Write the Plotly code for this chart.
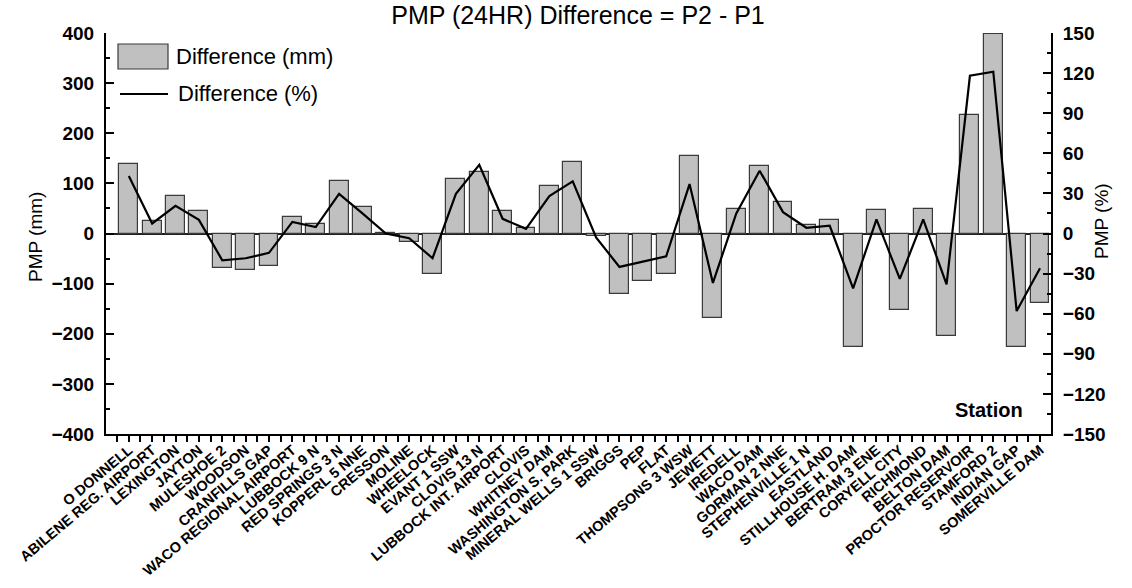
import plotly.graph_objects as go

# Stations along the x-axis
stations = [
    "O DONNELL", "ABILENE REG. AIRPORT", "LEXINGTON", "JAYTON", "MULESHOE 2",
    "WOODSON", "CRANFILLS GAP", "WACO REGIONAL AIRPORT", "LUBBOCK 9 N",
    "RED SPRINGS 3 N", "KOPPERL 5 NNE", "CRESSON", "MOLINE", "WHEELOCK",
    "EVANT 1 SSW", "CLOVIS 13 N", "LUBBOCK INT. AIRPORT", "CLOVIS",
    "WHITNEY DAM", "WASHINGTON S. PARK", "MINERAL WELLS 1 SSW", "BRIGGS",
    "PEP", "FLAT", "THOMPSONS 3 WSW", "JEWETT", "IREDELL", "WACO DAM",
    "GORMAN 2 NNE", "STEPHENVILLE 1 N", "EASTLAND", "STILLHOUSE H. DAM",
    "BERTRAM 3 ENE", "CORYELL CITY", "RICHMOND", "BELTON DAM",
    "PROCTOR RESERVOIR", "STAMFORD 2", "INDIAN GAP", "SOMERVILLE DAM",
]

# PMP difference P2 - P1 in millimetres (bars, left axis)
diff_mm = [
    138, 25, 75, 45, -68, -72, -64, 32, 19, 105,
    52, 1, -16, -80, 109, 123, 44, 11, 95, 142,
    -4, -120, -95, -81, 154, -168, 49, 134, 63, 17,
    26, -227, 46, -152, 48, -205, 236, 398, -227, -139,
]

# PMP difference P2 - P1 in percent (line, right axis)
diff_pct = [
    43, 7.5, 20.7, 10.2, -20, -18.5, -14.5, 8.7, 4.8, 29.6,
    15, 0, -3.5, -18.5, 29.7, 51.4, 11, 3.5, 28, 39,
    -3, -25, -21, -17, 37, -37, 15, 47, 16, 4.3,
    5.8, -41, 10.5, -34, 10.5, -38, 118, 121, -58, -26,
]

left_ticks = [-400, -300, -200, -100, 0, 100, 200, 300, 400]
right_ticks = [-150, -120, -90, -60, -30, 0, 30, 60, 90, 120, 150]

FONT = "Liberation Sans, Arial, sans-serif"
x = list(range(len(stations)))

fig = go.Figure()
fig.add_trace(go.Bar(
    x=x, y=diff_mm, name="Difference (mm)", width=0.81,
    marker=dict(color="#c0c0c0", line=dict(color="#3a3a3a", width=1.2)),
    yaxis="y", showlegend=False,
))
fig.add_trace(go.Scatter(
    x=x, y=diff_pct, name="Difference (%)", mode="lines",
    line=dict(color="black", width=2.2),
    yaxis="y2", showlegend=False,
))

# plot area in pixels: x 106..1051, y 33..434
L, R, T, B = 106, 1051, 33, 434
W, H = R - L, B - T


def px(xp):
    return (xp - L) / W


def py(yp):
    return (B - yp) / H


tick_font = dict(family=FONT, size=19, color="black", weight="bold")

fig.update_layout(
    width=1132, height=588,
    margin=dict(l=L, r=1132 - R, t=T, b=588 - B, autoexpand=False),
    paper_bgcolor="white", plot_bgcolor="white",
    bargap=0,
    title=dict(
        text="PMP (24HR) Difference = P2 - P1",
        font=dict(family=FONT, size=25, color="black"),
        xref="container", yref="container",
        x=578 / 1132, y=1 - 15 / 588, xanchor="center", yanchor="middle",
    ),
    xaxis=dict(
        range=[-0.976, 39.47],
        tickmode="array", tickvals=x, ticktext=stations,
        tickangle=-40,
        tickfont=dict(family=FONT, size=14.5, color="black", weight="bold"),
        ticklabelstandoff=-6,
        ticks="outside", ticklen=6, tickwidth=1.5, tickcolor="black",
        minor=dict(tickmode="array", tickvals=[i + 0.5 for i in range(-1, 40)],
                   ticks="outside", ticklen=6, tickwidth=1.5, tickcolor="black"),
        showline=True, linecolor="black", linewidth=2,
        showgrid=False, zeroline=False, automargin=False,
    ),
    yaxis=dict(
        range=[-400, 400],
        tickmode="array", tickvals=left_ticks,
        tickfont=tick_font,
        ticks="inside", ticklen=8, tickwidth=1.5, tickcolor="black",
        minor=dict(dtick=50, tick0=0, ticks="inside", ticklen=4,
                   tickwidth=1.5, tickcolor="black"),
        ticklabelstandoff=6,
        showline=True, linecolor="black", linewidth=2,
        showgrid=False,
        zeroline=True, zerolinecolor="#222222", zerolinewidth=1.5,
        automargin=False,
    ),
    yaxis2=dict(
        range=[-150, 150], overlaying="y", side="right",
        tickmode="array", tickvals=right_ticks,
        tickfont=tick_font,
        ticks="inside", ticklen=8, tickwidth=1.5, tickcolor="black",
        minor=dict(dtick=15, tick0=0, ticks="inside", ticklen=4,
                   tickwidth=1.5, tickcolor="black"),
        ticklabelstandoff=6,
        showline=True, linecolor="black", linewidth=2,
        showgrid=False, zeroline=False, automargin=False,
    ),
)

# legend drawn as paper-anchored swatches
fig.add_shape(type="rect", xref="paper", yref="paper",
              x0=px(118), x1=px(168), y0=py(69), y1=py(44),
              fillcolor="#c0c0c0", line=dict(color="#3a3a3a", width=1.2))
fig.add_shape(type="line", xref="paper", yref="paper",
              x0=px(120), x1=px(168), y0=py(94), y1=py(94),
              line=dict(color="black", width=2.2))

annotations = [
    dict(text="Difference (mm)", x=px(174), y=py(56.5), xanchor="left", yanchor="middle",
         font=dict(family=FONT, size=22, color="black")),
    dict(text="Difference (%)", x=px(176), y=py(93.5), xanchor="left", yanchor="middle",
         font=dict(family=FONT, size=22, color="black")),
    dict(text="Station", x=px(989), y=py(410), xanchor="center", yanchor="middle",
         font=dict(family=FONT, size=20, color="black", weight="bold")),
    dict(text="PMP (mm)", x=px(35), y=py(237), textangle=-90,
         xanchor="center", yanchor="middle",
         font=dict(family=FONT, size=19, color="black")),
    dict(text="PMP (%)", x=px(1101), y=py(221), textangle=-90,
         xanchor="center", yanchor="middle",
         font=dict(family=FONT, size=19, color="black")),
]
for a in annotations:
    fig.add_annotation(xref="paper", yref="paper", showarrow=False, **a)

fig.write_html("out.html")
